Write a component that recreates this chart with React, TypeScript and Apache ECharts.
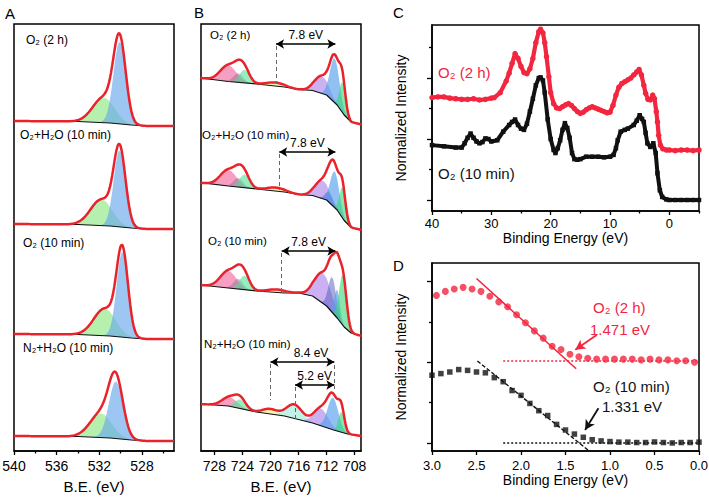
import React, { useEffect, useRef } from 'react';
import * as echarts from 'echarts';

const FONT = "'Liberation Sans', Arial, Helvetica, sans-serif";

// ---------------- Panel A : O 1s ----------------
const A_LABELS = ['O₂ (2 h)', 'O₂+H₂O (10 min)', 'O₂ (10 min)', 'N₂+H₂O (10 min)'];
const A_OFFSETS = [3.25, 2.22, 1.12, 0.10];
const A_BACKGROUND = [[540, 0.05], [534, 0.045], [531, 0.03], [529, 0.01], [527.5, 0], [525, 0]];
// [center (eV), height, FWHM (eV)]
const A_LATTICE_O = [[530.1, 0.82, 1.35], [530.1, 0.765, 1.3], [529.85, 0.85, 1.25], [530.45, 0.57, 1.55]];
const A_SURFACE_O = [[531.6, 0.25, 2.4], [531.8, 0.26, 2.4], [531.5, 0.27, 2.4], [531.85, 0.24, 2.4]];
const A_TICKS = [528, 532, 536, 540];
const A_MINOR_TICKS = [526, 530, 534, 538];

// ---------------- Panel B : Fe 2p ----------------
const B_LABELS = ['O₂ (2 h)', 'O₂+H₂O (10 min)', 'O₂ (10 min)', 'N₂+H₂O (10 min)'];
const B_OFFSETS = [3.265, 2.21, 1.15, 0.15];
const B_BG_1 = [[730, 0.465], [726, 0.43], [722, 0.405], [718, 0.375], [716, 0.35], [714, 0.34], [712, 0.295], [710.5, 0.195], [709.5, 0.095], [708.5, 0.025], [707, 0]];
const B_BG_2 = [[730, 0.473], [726, 0.44], [722, 0.41], [718, 0.38], [716, 0.355], [714, 0.345], [712, 0.3], [710.5, 0.2], [709.5, 0.095], [708.5, 0.025], [707, 0]];
const B_BG_3 = [[730, 0.51], [726, 0.48], [722, 0.45], [718, 0.43], [716, 0.43], [714, 0.4], [712, 0.3], [710.5, 0.18], [709.5, 0.09], [708.5, 0.03], [707, 0]];
const B_BG_4 = [[730, 0.32], [726, 0.3], [722, 0.24], [718, 0.2], [714, 0.13], [711, 0.06], [709, 0.02], [707, 0]];
// [component, center (eV), height, FWHM (eV)]
const B_PEAKS_1: [string, number, number, number][] = [
  ['2p½ a', 726.0, 0.16, 2.7], ['2p½ b', 724.6, 0.09, 1.6], ['2p½ c', 723.7, 0.13, 1.7], ['sat I', 719.3, 0.035, 3.0],
  ['2p3/2 a', 712.7, 0.17, 2.4], ['2p3/2 c', 710.85, 0.44, 1.6], ['2p3/2 d', 709.75, 0.30, 1.0],
];
const B_PEAKS_2: [string, number, number, number][] = [
  ['2p½ a', 726.0, 0.16, 2.7], ['2p½ b', 724.6, 0.09, 1.6], ['2p½ c', 723.7, 0.13, 1.7], ['sat I', 719.2, 0.035, 3.0],
  ['2p3/2 a', 712.6, 0.18, 2.4], ['2p3/2 b', 711.6, 0.10, 1.3], ['2p3/2 c', 710.85, 0.36, 1.5], ['2p3/2 d', 709.75, 0.30, 1.0],
];
const B_PEAKS_3: [string, number, number, number][] = [
  ['2p½ a', 726.0, 0.17, 2.7], ['2p½ b', 724.6, 0.10, 1.6], ['2p½ c', 723.7, 0.14, 1.7], ['sat I', 719.1, 0.03, 3.0],
  ['2p3/2 a', 712.5, 0.30, 2.8], ['2p3/2 b', 711.2, 0.35, 1.3], ['2p3/2 c', 710.5, 0.28, 0.9], ['2p3/2 d', 709.7, 0.50, 1.2],
];
const B_PEAKS_4: [string, number, number, number][] = [
  ['2p½ a', 725.8, 0.09, 2.6], ['2p½ c', 724.3, 0.09, 1.8], ['sat I', 720.05, 0.05, 2.5], ['sat II', 716.6, 0.14, 2.6],
  ['2p3/2 a', 712.8, 0.17, 2.4], ['2p3/2 c', 711.1, 0.32, 1.8], ['2p3/2 d', 709.9, 0.20, 1.0],
];
const B_TICKS = [708, 712, 716, 720, 724, 728];
// satellite distance annotations
const B_GAP_LABELS = ['7.8 eV', '7.8 eV', '7.8 eV', '8.4 eV', '5.2 eV'];
const B_GAP_FROM = [719.2, 718.75, 718.4, 720.0, 716.5];
const B_GAP_TO = [710.75, 710.75, 710.75, 710.9, 710.9];
const B_GAP_LEVEL = [4.07, 2.99, 2.0, 0.89, 0.66];
const B_GAP_DROP = [3.67, 2.61, 1.58, 0.51, 0.31];

// ---------------- Panel C : valence band ----------------
const C_O2_2H = [
  [40, 1.68], [39, 1.69], [38, 1.69], [37, 1.67], [36, 1.66], [35, 1.65], [34, 1.65], [33, 1.66], [32, 1.64], [31, 1.65], [30, 1.67],
  [29.5, 1.68], [28.5, 1.76], [27.5, 1.95], [27, 2.08], [26.5, 2.24], [26, 2.40], [25.5, 2.32], [25, 2.19], [24.5, 2.09], [24, 2.07],
  [23.5, 2.15], [23, 2.32], [22.5, 2.58], [22, 2.76], [21.7, 2.80], [21.3, 2.74], [21, 2.58], [20.7, 2.35], [20.3, 2.02], [20, 1.76],
  [19.5, 1.58], [19, 1.51], [18.5, 1.50], [18, 1.53], [17.5, 1.56], [17, 1.58], [16.5, 1.55], [16, 1.50], [15.5, 1.45], [15, 1.42],
  [14.5, 1.44], [14, 1.48], [13.5, 1.51], [13, 1.53], [12.5, 1.51], [12, 1.49], [11.5, 1.47], [11, 1.45], [10.5, 1.43], [10, 1.44],
  [9.5, 1.55], [9, 1.72], [8.5, 1.85], [8, 1.91], [7.5, 1.94], [7, 1.97], [6.5, 2.0], [6, 2.05], [5.5, 2.10], [5.1, 2.14],
  [4.7, 2.05], [4.3, 1.88], [4, 1.75], [3.6, 1.65], [3.2, 1.64], [2.8, 1.72], [2.5, 1.66], [2.2, 1.45], [2, 1.28], [1.8, 1.06],
  [1.5, 0.90], [1.1, 0.84], [0.5, 0.82], [0, 0.82], [-1, 0.81], [-2, 0.82], [-3, 0.82], [-4, 0.81], [-5, 0.82],
];
const C_O2_10MIN = [
  [40, 0.90], [38, 0.88], [36, 0.86], [35, 0.86], [34.5, 0.93], [34, 1.02], [33.5, 1.09], [33, 1.02], [32.5, 0.96], [32, 0.93],
  [31.5, 0.95], [31, 1.01], [30.5, 1.0], [30, 0.96], [29, 0.98], [28, 1.12], [27, 1.23], [26.5, 1.28], [26, 1.32], [25.5, 1.23],
  [25, 1.17], [24.5, 1.15], [24, 1.25], [23.5, 1.45], [23, 1.66], [22.5, 1.88], [22, 2.0], [21.7, 2.01], [21.3, 1.96], [21, 1.76],
  [20.5, 1.32], [20, 1.0], [19.5, 0.82], [19.2, 0.77], [18.8, 0.85], [18.4, 0.98], [18, 1.15], [17.6, 1.26], [17.2, 1.18], [16.8, 1.02],
  [16.4, 0.77], [16, 0.67], [15.5, 0.66], [15, 0.67], [14, 0.71], [13, 0.71], [12, 0.71], [11, 0.70], [10, 0.71], [9.4, 0.74],
  [9, 0.85], [8.7, 0.98], [8.2, 1.12], [7.5, 1.15], [7, 1.17], [6, 1.23], [5.5, 1.30], [5, 1.39], [4.6, 1.33], [4.3, 1.28],
  [4, 1.10], [3.7, 0.93], [3.2, 0.87], [2.7, 0.93], [2.3, 0.77], [2, 0.44], [1.6, 0.16], [1.2, 0.05], [0.5, 0.01], [0, 0.0],
  [-1, 0.0], [-2, 0.0], [-3, 0.0], [-4, 0.0], [-5, 0.0],
];
const C_TICKS = [0, 10, 20, 30, 40];
const C_MINOR_TICKS = [-5, 5, 15, 25, 35];

// ---------------- Panel D : VB edge ----------------
const D_X_2H = [2.95, 2.85, 2.75, 2.65, 2.55, 2.45, 2.35, 2.25, 2.15, 2.05, 1.95, 1.85, 1.75, 1.65, 1.55, 1.45, 1.35, 1.25, 1.15, 1.05, 0.95, 0.85, 0.75, 0.65, 0.55, 0.45, 0.35, 0.25, 0.15, 0.05];
const D_Y_2H = [1.83, 1.88, 1.91, 1.93, 1.91, 1.88, 1.82, 1.75, 1.69, 1.59, 1.49, 1.39, 1.30, 1.20, 1.16, 1.10, 1.07, 1.05, 1.04, 1.04, 1.04, 1.04, 1.04, 1.03, 1.04, 1.03, 1.03, 1.02, 1.02, 1.0];
const D_X_10MIN = [3.0, 2.9, 2.8, 2.7, 2.6, 2.5, 2.4, 2.3, 2.2, 2.1, 2.0, 1.9, 1.8, 1.7, 1.6, 1.5, 1.4, 1.3, 1.2, 1.1, 1.0, 0.9, 0.8, 0.7, 0.6, 0.5, 0.4, 0.3, 0.2, 0.1, 0.0];
const D_Y_10MIN = [0.84, 0.86, 0.88, 0.91, 0.90, 0.88, 0.87, 0.81, 0.76, 0.65, 0.59, 0.49, 0.40, 0.34, 0.23, 0.16, 0.11, 0.07, 0.04, 0.025, 0.017, 0.01, 0.01, 0.005, 0.005, 0.012, 0.005, 0.0, 0.005, 0.005, 0.01];
const D_FIT_2H = [[2.5, 2.04], [1.38, 0.92]];
const D_BASE_2H = [[2.2, 1.017], [0.0, 1.017]];
const D_FIT_10MIN = [[2.49, 1.017], [1.235, -0.1]];
const D_BASE_10MIN = [[2.2, 0.0], [0.0, 0.0]];
const D_ONSET_LABELS = ['1.471 eV', '1.331 eV'];
const D_ARROW_2H = [[1.15, 1.34], [1.39, 1.155]];
const D_ARROW_10MIN = [[1.13, 0.43], [1.28, 0.16]];

// ---------------- styles ----------------
const RED_FIT = '#e8232b';
const RED = '#f3263f';
const BLACK = '#111111';
const COMP_COLORS: Record<string, string> = {
  surface: 'rgba(120,228,110,0.55)',
  lattice: 'rgba(105,168,235,0.65)',
  '2p½ a': 'rgba(240,95,155,0.6)',
  '2p½ b': 'rgba(150,105,150,0.45)',
  '2p½ c': 'rgba(80,225,150,0.6)',
  'sat I': 'rgba(245,232,130,0.65)',
  'sat II': 'rgba(150,235,215,0.6)',
  '2p3/2 a': 'rgba(175,135,235,0.65)',
  '2p3/2 b': 'rgba(80,90,190,0.5)',
  '2p3/2 c': 'rgba(85,160,235,0.65)',
  '2p3/2 d': 'rgba(55,215,115,0.6)',
};

function gauss(c: number, h: number, w: number, x: number) {
  const s = w / 2.3548;
  return h * Math.exp(-((x - c) * (x - c)) / (2 * s * s));
}
function interp(pts: number[][], x: number) {
  const s = [...pts].sort((a, b) => a[0] - b[0]);
  if (x <= s[0][0]) return s[0][1];
  for (let i = 1; i < s.length; i++) {
    if (x <= s[i][0]) {
      const t = (x - s[i - 1][0]) / (s[i][0] - s[i - 1][0]);
      return s[i - 1][1] + t * (s[i][1] - s[i - 1][1]);
    }
  }
  return s[s.length - 1][1];
}
function sampleGrid(a: number, b: number, step: number) {
  const r: number[] = [];
  for (let v = a; v <= b + 1e-9; v += step) r.push(Math.round(v * 1000) / 1000);
  return r;
}

type Peak = { kind: string; c: number; h: number; w: number };
type Spectrum = { off: number; bg: number[][]; peaks: Peak[] };

function spectrumSeries(xi: number, yi: number, spectra: Spectrum[], xs: number[]) {
  const comps: (Peak & { si: number })[] = [];
  spectra.forEach((sp, si) => sp.peaks.forEach((p) => comps.push({ ...p, si })));
  const out: any[] = [];
  out.push({
    type: 'custom',
    xAxisIndex: xi,
    yAxisIndex: yi,
    silent: true,
    z: 2,
    data: comps.map((c) => [c.c, spectra[c.si].off]),
    renderItem: (params: any, api: any) => {
      const cp = comps[params.dataIndex];
      const sp = spectra[cp.si];
      const top: number[][] = [];
      const bot: number[][] = [];
      for (const x of xs) {
        const g = gauss(cp.c, cp.h, cp.w, x);
        if (g < 0.0015) continue;
        const b = sp.off + interp(sp.bg, x);
        top.push(api.coord([x, b + g]));
        bot.push(api.coord([x, b]));
      }
      bot.reverse();
      return { type: 'polygon', shape: { points: top.concat(bot) }, style: { fill: COMP_COLORS[cp.kind] } };
    },
  });
  spectra.forEach((sp) => {
    out.push({
      type: 'line', xAxisIndex: xi, yAxisIndex: yi, silent: true, z: 3, symbol: 'none',
      data: sp.bg.map((p) => [p[0], sp.off + p[1]]),
      lineStyle: { color: BLACK, width: 1.2 },
    });
    out.push({
      type: 'line', xAxisIndex: xi, yAxisIndex: yi, silent: true, z: 4, symbol: 'none',
      data: xs.map((x) => [x, sp.off + interp(sp.bg, x) + sp.peaks.reduce((s, p) => s + gauss(p.c, p.h, p.w, x), 0)]),
      lineStyle: { color: RED_FIT, width: 2.5 },
    });
  });
  return out;
}

function buildOption() {
  const xsA = sampleGrid(525, 540, 0.1);
  const xsB = sampleGrid(707, 730, 0.1);
  const aSpectra: Spectrum[] = A_OFFSETS.map((off, i) => ({
    off,
    bg: A_BACKGROUND,
    peaks: [
      { kind: 'surface', c: A_SURFACE_O[i][0], h: A_SURFACE_O[i][1], w: A_SURFACE_O[i][2] },
      { kind: 'lattice', c: A_LATTICE_O[i][0], h: A_LATTICE_O[i][1], w: A_LATTICE_O[i][2] },
    ],
  }));
  const bBgs = [B_BG_1, B_BG_2, B_BG_3, B_BG_4];
  const bPeaks = [B_PEAKS_1, B_PEAKS_2, B_PEAKS_3, B_PEAKS_4];
  const bSpectra: Spectrum[] = B_OFFSETS.map((off, i) => ({
    off,
    bg: bBgs[i],
    peaks: bPeaks[i].map((p) => ({ kind: p[0], c: p[1], h: p[2], w: p[3] })),
  }));

  const axisLineStyle = { color: '#000', width: 1.5 };
  const tickStyle = { color: '#000', width: 1.3 };
  const grids = [
    { left: 14, top: 24, width: 160, height: 427 },
    { left: 201, top: 24, width: 160, height: 427 },
    { left: 432, top: 25, width: 267, height: 186 },
    { left: 432, top: 263, width: 267, height: 188 },
  ].map((g) => ({ ...g, show: true, borderColor: '#000', borderWidth: 1.5, backgroundColor: 'transparent', containLabel: false, outerBoundsMode: 'none' }));

  const minorX = (gi: number, min: number, max: number, vals: number[]) => ({
    gridIndex: gi, type: 'value', min, max, inverse: true, position: 'bottom',
    axisLine: { show: false, onZero: false }, axisLabel: { show: false }, splitLine: { show: false },
    axisTick: { show: true, length: 2.5, lineStyle: tickStyle, customValues: vals },
  });
  const minorY = (gi: number, min: number, max: number, vals: number[]) => ({
    gridIndex: gi, type: 'value', min, max, position: 'left',
    axisLine: { show: false, onZero: false }, axisLabel: { show: false }, splitLine: { show: false },
    axisTick: { show: true, length: 3, lineStyle: tickStyle, customValues: vals },
  });
  const nameStyle = (size: number) => ({ fontSize: size, color: '#000', fontFamily: FONT });

  const xAxis = [
    {
      gridIndex: 0, type: 'value', min: 525, max: 540, inverse: true, position: 'bottom',
      axisLine: { show: true, onZero: false, lineStyle: axisLineStyle },
      axisTick: { show: true, length: 4, lineStyle: tickStyle, customValues: A_TICKS },
      axisLabel: { customValues: A_TICKS, fontSize: 14, color: '#000', margin: 8, fontFamily: FONT },
      splitLine: { show: false },
      name: 'B.E. (eV)', nameLocation: 'middle', nameGap: 28, nameTextStyle: nameStyle(15),
    },
    {
      gridIndex: 1, type: 'value', min: 707.1, max: 729.9, inverse: true, position: 'bottom',
      axisLine: { show: true, onZero: false, lineStyle: axisLineStyle },
      axisTick: { show: true, length: 4, lineStyle: tickStyle, customValues: B_TICKS },
      axisLabel: { customValues: B_TICKS, fontSize: 14, color: '#000', margin: 8, fontFamily: FONT },
      splitLine: { show: false },
      name: 'B.E. (eV)', nameLocation: 'middle', nameGap: 28, nameTextStyle: nameStyle(15),
    },
    {
      gridIndex: 2, type: 'value', min: -5, max: 40, inverse: true, position: 'bottom',
      axisLine: { show: true, onZero: false, lineStyle: axisLineStyle },
      axisTick: { show: true, length: 4, lineStyle: tickStyle, customValues: C_TICKS },
      axisLabel: { customValues: C_TICKS, fontSize: 13, color: '#000', margin: 6, fontFamily: FONT },
      splitLine: { show: false },
      name: 'Binding Energy (eV)', nameLocation: 'middle', nameGap: 20, nameTextStyle: nameStyle(14),
    },
    {
      gridIndex: 3, type: 'value', min: 0, max: 3, interval: 0.5, inverse: true, position: 'bottom',
      axisLine: { show: true, onZero: false, lineStyle: axisLineStyle },
      axisTick: { show: true, length: 4, lineStyle: tickStyle },
      axisLabel: { fontSize: 13, color: '#000', margin: 8, fontFamily: FONT, formatter: (v: number) => v.toFixed(1) },
      splitLine: { show: false },
      name: 'Binding Energy (eV)', nameLocation: 'middle', nameGap: 21, nameTextStyle: nameStyle(14),
    },
    minorX(0, 525, 540, A_MINOR_TICKS),
    minorX(2, -5, 40, C_MINOR_TICKS),
  ];
  const yAxis = [
    { gridIndex: 0, type: 'value', min: 0, max: 4.27, show: false },
    { gridIndex: 1, type: 'value', min: 0, max: 4.27, show: false },
    {
      gridIndex: 2, type: 'value', min: -0.18, max: 2.869, position: 'left',
      axisLine: { show: true, onZero: false, lineStyle: axisLineStyle },
      axisTick: { show: true, length: 5, lineStyle: tickStyle, customValues: [0, 1, 2] },
      axisLabel: { show: false }, splitLine: { show: false },
      name: 'Normalized Intensity', nameLocation: 'middle', nameGap: 24, nameTextStyle: nameStyle(14),
    },
    {
      gridIndex: 3, type: 'value', min: -0.1, max: 2.232, position: 'left',
      axisLine: { show: true, onZero: false, lineStyle: axisLineStyle },
      axisTick: { show: true, length: 5, lineStyle: tickStyle, customValues: [0, 1, 2] },
      axisLabel: { show: false }, splitLine: { show: false },
      name: 'Normalized Intensity', nameLocation: 'middle', nameGap: 24, nameTextStyle: nameStyle(14),
    },
    minorY(2, -0.18, 2.869, [0.5, 1.5, 2.5]),
    minorY(3, -0.1, 2.232, [0.5, 1.5]),
  ];

  const seriesA = spectrumSeries(0, 0, aSpectra, xsA);
  const seriesB = spectrumSeries(1, 1, bSpectra, xsB);

  // annotations for panel B
  const gapLines: any[] = [];
  B_GAP_LABELS.forEach((lab, i) => {
    gapLines.push([
      {
        coord: [B_GAP_FROM[i], B_GAP_LEVEL[i]], symbol: 'arrow', symbolSize: [7, 8],
        lineStyle: { color: '#000', width: 1.6, type: 'solid' },
        label: {
          show: true, formatter: lab, position: i === 3 ? 'insideEndTop' : 'insideMiddleTop',
          distance: i === 3 ? [6, 3] : 3, color: '#000', fontSize: 12, fontFamily: FONT,
        },
      },
      { coord: [B_GAP_TO[i], B_GAP_LEVEL[i]], symbol: 'arrow', symbolSize: [7, 8] },
    ]);
    gapLines.push([
      { coord: [B_GAP_FROM[i], B_GAP_LEVEL[i] - 0.02], symbol: 'none', lineStyle: { color: '#666', width: 1, type: [4, 3] }, label: { show: false } },
      { coord: [B_GAP_FROM[i], B_GAP_DROP[i]], symbol: 'none' },
    ]);
  });
  gapLines.push([
    { coord: [B_GAP_TO[4], B_GAP_LEVEL[3] - 0.03], symbol: 'none', lineStyle: { color: '#666', width: 1, type: [4, 3] }, label: { show: false } },
    { coord: [B_GAP_TO[4], B_GAP_LEVEL[4] - 0.04], symbol: 'none' },
  ]);
  seriesB.push({
    type: 'line', xAxisIndex: 1, yAxisIndex: 1, data: [], silent: true,
    markLine: { silent: true, symbol: ['none', 'none'], label: { show: false }, data: gapLines },
  });

  const seriesC = [
    {
      type: 'line', xAxisIndex: 2, yAxisIndex: 2, data: C_O2_10MIN, symbol: 'rect', symbolSize: 4.5,
      itemStyle: { color: BLACK }, lineStyle: { color: BLACK, width: 4 }, silent: true, z: 3,
    },
    {
      type: 'line', xAxisIndex: 2, yAxisIndex: 2, data: C_O2_2H, symbol: 'circle', symbolSize: 5.5,
      itemStyle: { color: RED }, lineStyle: { color: RED, width: 4.2 }, silent: true, z: 4,
    },
  ];

  const arrowLine = (pts: number[][], color: string) => [[
    { coord: pts[0], symbol: 'none', lineStyle: { color, width: 1.8, type: 'solid' } },
    { coord: pts[1], symbol: 'arrow', symbolSize: [8, 10] },
  ]];
  const seriesD = [
    {
      type: 'line', xAxisIndex: 3, yAxisIndex: 3, data: D_BASE_2H, symbol: 'none', silent: true,
      lineStyle: { color: RED, width: 1.6, type: [2, 2] },
    },
    {
      type: 'line', xAxisIndex: 3, yAxisIndex: 3, data: D_BASE_10MIN, symbol: 'none', silent: true,
      lineStyle: { color: BLACK, width: 1.6, type: [2, 2] },
    },
    {
      type: 'line', xAxisIndex: 3, yAxisIndex: 3, data: D_FIT_2H, symbol: 'none', silent: true,
      lineStyle: { color: RED, width: 1.6 },
    },
    {
      type: 'line', xAxisIndex: 3, yAxisIndex: 3, data: D_FIT_10MIN, symbol: 'none', silent: true,
      lineStyle: { color: BLACK, width: 1.4, type: [4, 2] },
    },
    {
      type: 'scatter', xAxisIndex: 3, yAxisIndex: 3, symbol: 'circle', symbolSize: 7, silent: true, z: 4,
      data: D_X_2H.map((x, i) => [x, D_Y_2H[i]]), itemStyle: { color: RED },
      markLine: { silent: true, symbol: ['none', 'none'], label: { show: false }, data: arrowLine(D_ARROW_2H, RED) },
    },
    {
      type: 'scatter', xAxisIndex: 3, yAxisIndex: 3, symbol: 'rect', symbolSize: 5.5, silent: true, z: 4,
      data: D_X_10MIN.map((x, i) => [x, D_Y_10MIN[i]]), itemStyle: { color: BLACK },
      markLine: { silent: true, symbol: ['none', 'none'], label: { show: false }, data: arrowLine(D_ARROW_10MIN, BLACK) },
    },
  ];

  const txt = (x: number, y: number, text: string, size: number, fill = '#000') => ({
    type: 'text', x, y, silent: true, z: 10,
    style: { text, fill, fontSize: size, fontFamily: FONT, align: 'left', verticalAlign: 'middle' },
  });
  const graphic = [
    txt(5, 13, 'A', 15), txt(194, 12, 'B', 15), txt(393, 12, 'C', 15), txt(393, 265, 'D', 15),
    txt(26, 40, A_LABELS[0], 12), txt(20, 135, A_LABELS[1], 12), txt(23, 243, A_LABELS[2], 12), txt(23, 348, A_LABELS[3], 12),
    txt(210, 35, B_LABELS[0], 11.5), txt(202, 135, B_LABELS[1], 11.5), txt(208, 241, B_LABELS[2], 11.5), txt(204, 344, B_LABELS[3], 11.5),
    txt(438, 72, 'O₂ (2 h)', 15, RED), txt(438, 173, 'O₂ (10 min)', 15, BLACK),
    txt(593, 307, 'O₂ (2 h)', 15, RED), txt(590, 329, D_ONSET_LABELS[0], 15, RED),
    txt(593, 386, 'O₂ (10 min)', 15, BLACK), txt(602, 406, D_ONSET_LABELS[1], 15, BLACK),
  ];

  return {
    animation: false,
    backgroundColor: '#fff',
    textStyle: { fontFamily: FONT },
    grid: grids,
    xAxis,
    yAxis,
    series: [...seriesA, ...seriesB, ...seriesC, ...seriesD],
    graphic,
  };
}

export default function App() {
  const ref = useRef<HTMLDivElement>(null);
  useEffect(() => {
    if (!ref.current) return;
    const chart = echarts.init(ref.current, undefined, { renderer: 'svg', width: 709, height: 497 });
    chart.setOption(buildOption() as any);
    return () => chart.dispose();
  }, []);
  return (
    <div
      ref={ref}
      style={{ position: 'absolute', left: 0, top: 0, width: 709, height: 497, background: '#fff' }}
    />
  );
}
